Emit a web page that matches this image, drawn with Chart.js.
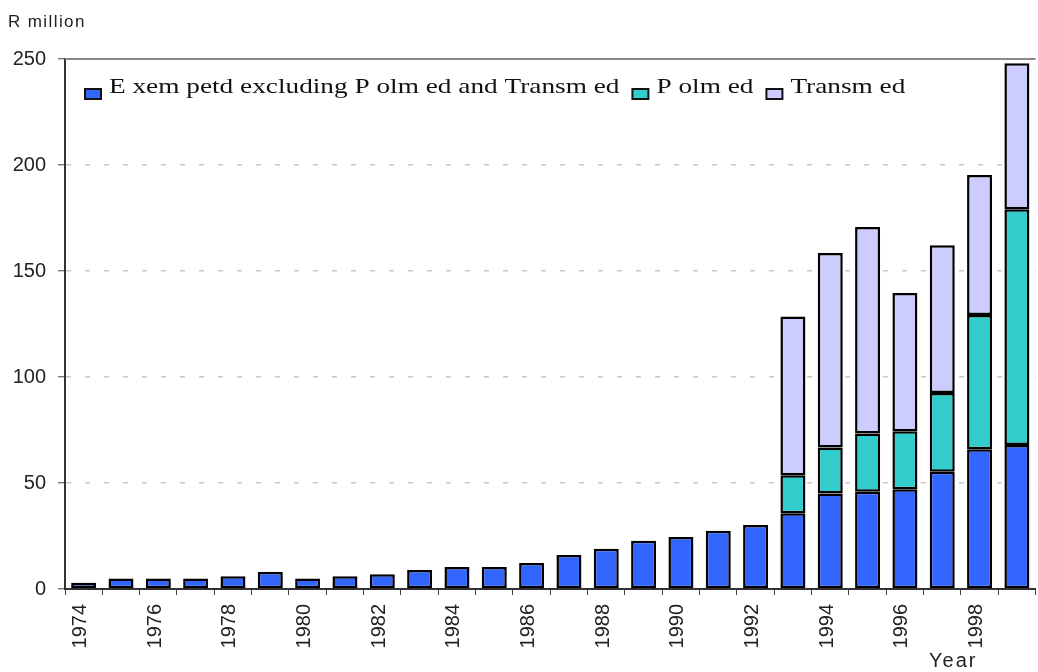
<!DOCTYPE html>
<html>
<head>
<meta charset="utf-8">
<script src="https://cdn.jsdelivr.net/npm/chart.js@4.4.1/dist/chart.umd.min.js"></script>
<style>
  html, body { margin: 0; padding: 0; background: #fff; overflow: hidden; }
  #wrap { position: absolute; left: 0; top: 0; width: 1050px; height: 672px; }
  .lbl { position: absolute; font-family: "Liberation Sans", Arial, sans-serif; color: #222; line-height: 20px; white-space: nowrap; }
</style>
</head>
<body>
<div id="wrap"><canvas id="chart"></canvas></div>
<div class="lbl" style="left:8px; top:12px; font-size:17px; letter-spacing:1.4px;">R million</div>
<div class="lbl" style="left:929px; top:650px; font-size:20px; letter-spacing:2px;">Year</div>
<script>
/* ========= DATA ========= */
const years = [
  "1974","1975","1976","1977","1978","1979","1980","1981","1982","1983",
  "1984","1985","1986","1987","1988","1989","1990","1991","1992","1993",
  "1994","1995","1996","1997","1998","1999"
];
const exempted = [3, 5, 5, 5, 6, 8, 5, 6, 7, 9, 10.4, 10.4, 12.3, 16, 19, 22.8, 24.5, 27.5, 30.2,
                  35.7, 45.1, 45.9, 47, 55.3, 65.9, 67.9];
const polmed   = [null, null, null, null, null, null, null, null, null, null, null, null, null, null, null, null, null, null, null,
                  17.9, 21.7, 27.5, 27.4, 37.2, 63.3, 111.2];
const transmed = [null, null, null, null, null, null, null, null, null, null, null, null, null, null, null, null, null, null, null,
                  74.9, 91.7, 97.4, 65.2, 69.6, 66.1, 68.9];
const yTicks = [0, 50, 100, 150, 200, 250];

/* ========= PLUGINS ========= */
// solid frame line along the top of the plot
const topLine = {
  id: "topLine",
  beforeDatasetsDraw(chart){
    const {ctx, chartArea} = chart;
    ctx.save();
    ctx.strokeStyle = "#8a8a8a";
    ctx.lineWidth = 2;
    ctx.beginPath();
    ctx.moveTo(chartArea.left, chartArea.top);
    ctx.lineTo(chartArea.right, chartArea.top);
    ctx.stroke();
    ctx.restore();
  }
};

// legend drawn inside the plot area
const innerLegend = {
  id: "innerLegend",
  afterDatasetsDraw(chart){
    const {ctx, chartArea} = chart;
    const sx = 1.24;
    let x = chartArea.left + 20;
    const y = chartArea.top + 34;
    ctx.save();
    ctx.font = '22px "Liberation Serif", "Times New Roman", serif';
    ctx.textBaseline = "alphabetic";
    chart.data.datasets.forEach(ds => {
      ctx.fillStyle = ds.backgroundColor;
      ctx.fillRect(x, y - 4, 16, 10);
      ctx.lineWidth = 2;
      ctx.strokeStyle = "#111";
      ctx.strokeRect(x, y - 4, 16, 10);
      x += 16 + 8;
      ctx.save();
      ctx.translate(x, y);
      ctx.scale(sx, 1);
      ctx.fillStyle = "#111";
      ctx.fillText(ds.label, 0, 0);
      ctx.restore();
      x += ctx.measureText(ds.label).width * sx + 13;
    });
    ctx.restore();
  }
};

/* ========= CHART ========= */
const bar = (label, data, color) => ({
  label, data,
  backgroundColor: color,
  borderColor: "#000",
  borderWidth: 2.5,
  borderSkipped: false,
  inflateAmount: 0,
  categoryPercentage: 1,
  barPercentage: 0.67
});

new Chart(document.getElementById("chart"), {
  type: "bar",
  data: {
    labels: years,
    datasets: [
      bar("E xem petd excluding P olm ed and Transm ed", exempted, "#3366ff"),
      bar("P olm ed", polmed, "#33cccc"),
      bar("Transm ed", transmed, "#ccccff")
    ]
  },
  options: {
    responsive: true,
    maintainAspectRatio: false,
    animation: false,
    layout: { padding: { top: 59, right: 5, left: 0, bottom: 0 } },
    plugins: { legend: { display: false }, tooltip: { enabled: false } },
    scales: {
      x: {
        stacked: true,
        afterFit: s => { s.height = 83; },
        grid: { drawOnChartArea: false, offset: true, tickLength: 6, tickColor: "#444", tickWidth: 1 },
        border: { color: "#333", width: 2 },
        ticks: {
          autoSkip: false, minRotation: 90, maxRotation: 90, padding: 9, labelOffset: -3,
          color: "#222",
          font: { family: "Liberation Sans", size: 20 },
          callback: (v, i) => (i % 2 === 0 ? years[i] : "")
        }
      },
      y: {
        stacked: true,
        min: 0, max: 250,
        afterFit: s => { s.width = 65; },
        afterBuildTicks: s => { s.ticks = yTicks.map(v => ({ value: v })); },
        grid: {
          color: c => (c.tick && c.tick.value === 250 ? "rgba(0,0,0,0)" : "#c8c8c8"),
          lineWidth: 1.5,
          tickLength: 7, tickColor: "#444", tickWidth: 1
        },
        border: { color: "#333", width: 2, dash: [5, 14] },
        ticks: {
          padding: 12, color: "#222",
          font: { family: "Liberation Sans", size: 20 }
        }
      }
    }
  },
  plugins: [topLine, innerLegend]
});
</script>
</body>
</html>
